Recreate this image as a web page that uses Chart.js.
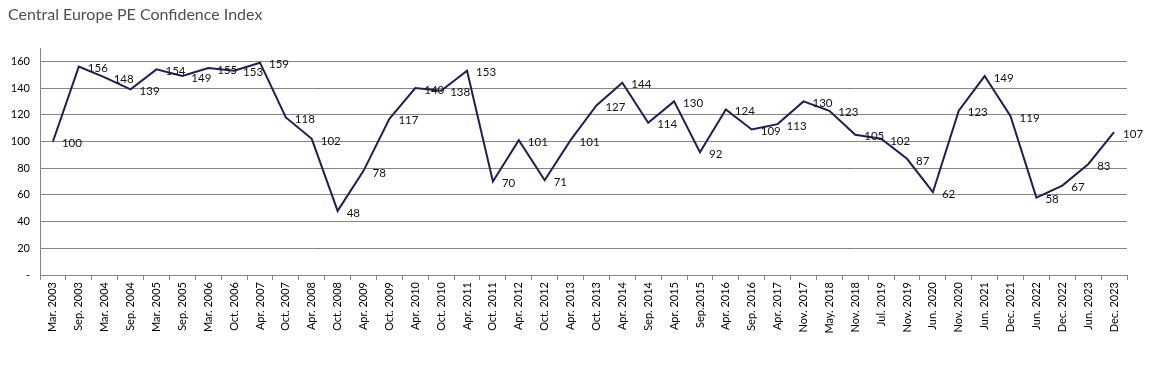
<!DOCTYPE html>
<html><head><meta charset="utf-8">
<script src="https://cdn.jsdelivr.net/npm/chart.js@4.4.1/dist/chart.umd.min.js"></script>
<style>html,body{margin:0;padding:0;background:#fff}#wrap{width:1163px;height:365px;position:relative}canvas{display:block}</style>
</head><body><div id="wrap"><canvas id="c" width="1163" height="365"></canvas></div>
<script>
const chartTitle = "Central Europe PE Confidence Index";
const categories = ["Mar. 2003","Sep. 2003","Mar. 2004","Sep. 2004","Mar. 2005","Sep. 2005","Mar. 2006","Oct. 2006","Apr. 2007","Oct. 2007","Apr. 2008","Oct. 2008","Apr. 2009","Oct. 2009","Apr. 2010","Oct. 2010","Apr. 2011","Oct. 2011","Apr. 2012","Oct. 2012","Apr. 2013","Oct. 2013","Apr. 2014","Sep. 2014","Apr. 2015","Sep.2015","Apr. 2016","Sep. 2016","Apr. 2017","Nov. 2017","May. 2018","Nov. 2018","Jul. 2019","Nov. 2019","Jun. 2020","Nov. 2020","Jun. 2021","Dec. 2021","Jun. 2022","Dec. 2022","Jun. 2023","Dec. 2023"];
const indexValues = [100,156,148,139,154,149,155,153,159,118,102,48,78,117,140,138,153,70,101,71,101,127,144,114,130,92,124,109,113,130,123,105,102,87,62,123,149,119,58,67,83,107];
const yTickValues = [0,20,40,60,80,100,120,140,160];

const FONT = "Lato, 'Open Sans', sans-serif";

const labelPlugin = {
  id: 'pointLabels',
  afterDatasetsDraw(chart) {
    const ctx = chart.ctx;
    const meta = chart.getDatasetMeta(0);
    ctx.save();
    ctx.font = "11.5px " + FONT;
    ctx.fillStyle = "#111";
    ctx.textAlign = "left";
    ctx.textBaseline = "middle";
    meta.data.forEach((pt, i) => {
      ctx.fillText(String(indexValues[i]), pt.x + 9, pt.y + 2);
    });
    ctx.restore();
  }
};
const titlePlugin = {
  id: 'manualTitle',
  afterDraw(chart) {
    const ctx = chart.ctx;
    ctx.save();
    ctx.font = "16px " + FONT;
    ctx.fillStyle = "#505050";
    ctx.textAlign = "left";
    ctx.textBaseline = "alphabetic";
    ctx.fillText(chartTitle, 8, 20);
    ctx.restore();
  }
};

new Chart(document.getElementById('c'), {
  type: 'line',
  data: {
    labels: categories,
    datasets: [{
      data: indexValues,
      borderColor: '#1F2050',
      borderWidth: 2,
      pointRadius: 0,
      tension: 0,
      fill: false
    }]
  },
  options: {
    responsive: false,
    devicePixelRatio: 1,
    animation: false,
    layout: { padding: { top: 48, left: 0, right: 36, bottom: 0 } },
    plugins: { legend: { display: false }, title: { display: false }, tooltip: { enabled: false } },
    scales: {
      x: {
        type: 'category',
        offset: true,
        grid: { display: true, drawOnChartArea: false, drawTicks: true, tickLength: 5, offset: true, color: '#868686' },
        border: { display: true, color: '#868686' },
        ticks: { autoSkip: false, maxRotation: 90, minRotation: 90, padding: 2, color: '#000', font: { family: FONT, size: 11 } },
        afterFit(scale) { scale.height = 90; }
      },
      y: {
        min: 0, max: 170,
        afterBuildTicks(scale) { scale.ticks = yTickValues.map(v => ({ value: v })); },
        grid: { color: '#868686', drawTicks: false },
        border: { display: true, color: '#868686' },
        ticks: { padding: 10, color: '#000', font: { family: FONT, size: 11 }, callback: v => v === 0 ? '-' : v },
        afterFit(scale) { scale.width = 40; }
      }
    }
  },
  plugins: [labelPlugin, titlePlugin]
});
</script>
</body></html>
